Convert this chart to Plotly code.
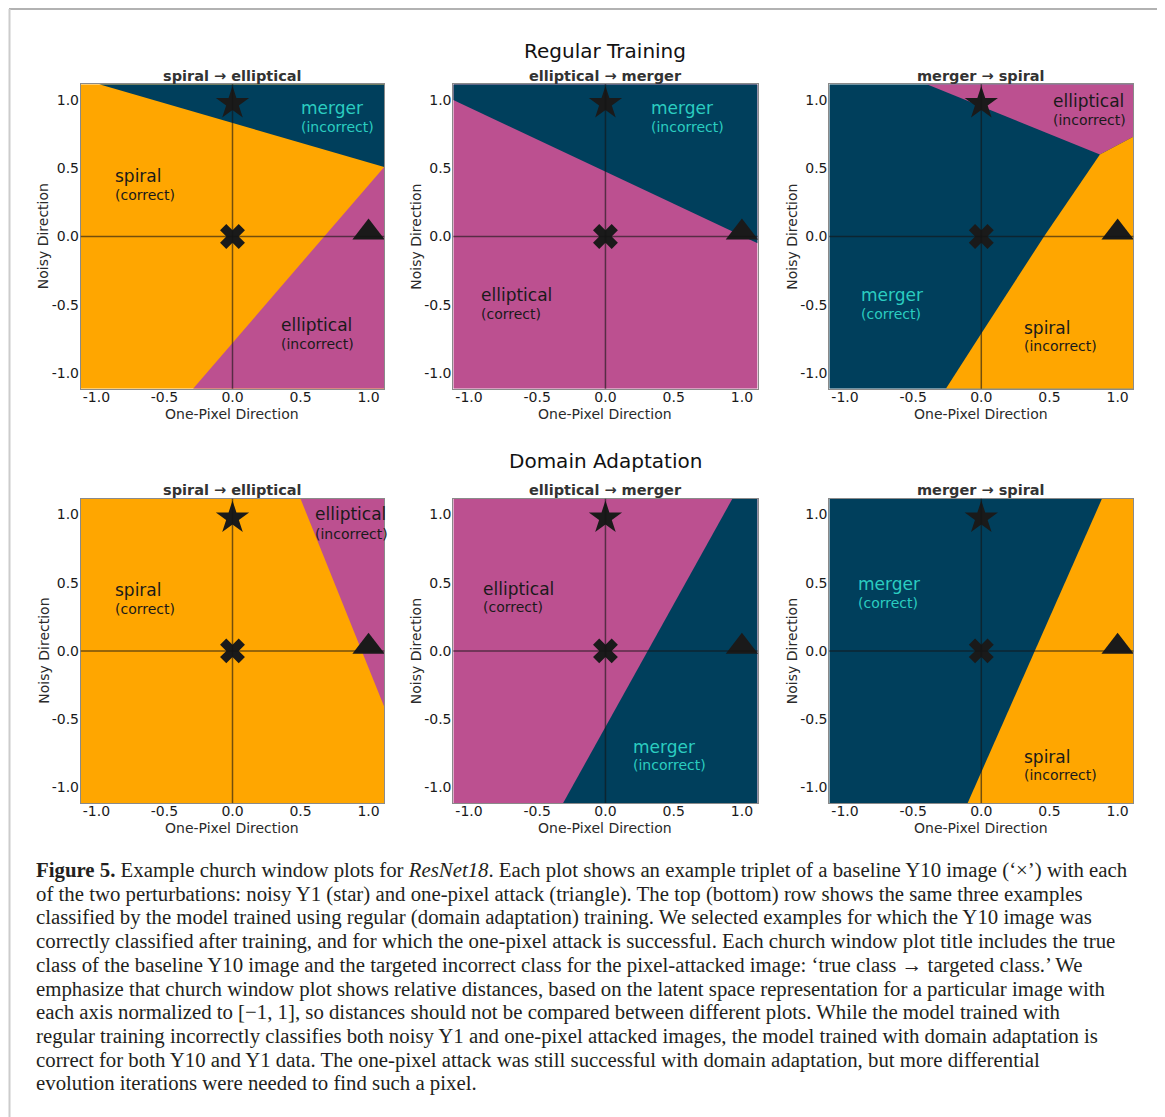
import plotly.graph_objects as go

# ---------------- data ----------------
E = 1.115  # half-width of each normalised window

tick_values = [-1.0, -0.5, 0.0, 0.5, 1.0]
tick_labels = ["-1.0", "-0.5", "0.0", "0.5", "1.0"]

row_titles = ["Regular Training", "Domain Adaptation"]
panel_titles = ["spiral \u2192 elliptical", "elliptical \u2192 merger", "merger \u2192 spiral"]

# background (majority) class of each window, row-major
panel_background = ["spiral", "elliptical", "merger", "spiral", "elliptical", "merger"]

# class regions drawn on top of the background: (class, x-vertices, y-vertices)
rt_se_regions = [("merger", [-0.98, E, E], [E, E, 0.51]),
                 ("elliptical", [-0.29, E, E], [-E, -E, 0.51])]
rt_em_regions = [("merger", [-E, -E, E, E], [E, 1.0, -0.05, E])]
rt_ms_regions = [("elliptical", [-0.40, 0.87, E, E], [E, 0.60, 0.73, E]),
                 ("spiral", [-0.26, 0.0, 0.46, 0.87, E, E], [-E, -0.71, 0.0, 0.60, 0.73, -E])]
da_se_regions = [("elliptical", [0.50, E, E], [E, E, -0.41])]
da_em_regions = [("merger", [-0.31, 0.93, E, E], [-E, E, E, -E])]
da_ms_regions = [("spiral", [-0.10, 0.885, E, E], [-E, E, E, -E])]
panel_regions = [rt_se_regions, rt_em_regions, rt_ms_regions,
                 da_se_regions, da_em_regions, da_ms_regions]

# region labels: (class, verdict, x_left, y_name, y_verdict)
rt_se_labels = [("merger", "incorrect", 0.49, 0.94, 0.80),
                ("spiral", "correct", -0.88, 0.445, 0.305),
                ("elliptical", "incorrect", 0.34, -0.65, -0.79)]
rt_em_labels = [("merger", "incorrect", 0.32, 0.94, 0.80),
                ("elliptical", "correct", -0.925, -0.43, -0.57)]
rt_ms_labels = [("elliptical", "incorrect", 0.51, 0.99, 0.85),
                ("merger", "correct", -0.90, -0.43, -0.57),
                ("spiral", "incorrect", 0.30, -0.667, -0.80)]
da_se_labels = [("elliptical", "incorrect", 0.59, 1.0, 0.86),
                ("spiral", "correct", -0.88, 0.45, 0.31)]
da_em_labels = [("elliptical", "correct", -0.91, 0.455, 0.32),
                ("merger", "incorrect", 0.19, -0.705, -0.84)]
da_ms_labels = [("merger", "correct", -0.92, 0.487, 0.35),
                ("spiral", "incorrect", 0.30, -0.78, -0.91)]
panel_labels = [rt_se_labels, rt_em_labels, rt_ms_labels,
                da_se_labels, da_em_labels, da_ms_labels]

# triplet points
baseline_y10 = (0.0, 0.0)     # 'x'
noisy_y1 = (0.0, 0.975)       # star
one_pixel = (1.0, 0.03)       # triangle

caption_lines = [
    "<b>Figure 5.</b> Example church window plots for <i>ResNet18</i>. Each plot shows an example triplet of a baseline Y10 image (\u2018\u00d7\u2019) with each",
    "of the two perturbations: noisy Y1 (star) and one-pixel attack (triangle). The top (bottom) row shows the same three examples",
    "classified by the model trained using regular (domain adaptation) training. We selected examples for which the Y10 image was",
    "correctly classified after training, and for which the one-pixel attack is successful. Each church window plot title includes the true",
    "class of the baseline Y10 image and the targeted incorrect class for the pixel-attacked image: \u2018true class \u2192 targeted class.\u2019 We",
    "emphasize that church window plot shows relative distances, based on the latent space representation for a particular image with",
    "each axis normalized to [\u22121, 1], so distances should not be compared between different plots. While the model trained with",
    "regular training incorrectly classifies both noisy Y1 and one-pixel attacked images, the model trained with domain adaptation is",
    "correct for both Y10 and Y1 data. The one-pixel attack was still successful with domain adaptation, but more differential",
    "evolution iterations were needed to find such a pixel.",
]

# ---------------- styling ----------------
OFF = 8                      # page body margin of the html wrapper
W, H = 1165 - OFF, 1117 - OFF
FILL = {"spiral": "#ffa600", "elliptical": "#bc5090", "merger": "#003f5c"}
LABEL_COL = {"spiral": "#1a1a1a", "elliptical": "#1a1a1a", "merger": "#2bcdc0"}
FONT = "DejaVu Sans"
SERIF = "Liberation Serif"


def px_x(v):
    return (v - OFF) / W


def px_y(v):
    return 1 - (v - OFF) / H


col_px = [(80.8, 384.2), (453.3, 757.6), (829.3, 1133.3)]
row_px = [(84.3, 388.7), (498.8, 803.0)]
row_title_y = [51, 461]
panel_title_y = [76, 490]

fig = go.Figure()
annotations = []
shapes = []

for i in range(6):
    r, c = divmod(i, 3)
    n = "" if i == 0 else str(i + 1)
    xa, ya = "x" + n, "y" + n
    l, rr = col_px[c]
    t, b = row_px[r]
    axis_common = dict(range=[-E, E], tickvals=tick_values, ticktext=tick_labels,
                       showgrid=False, zeroline=False, ticks="", showline=True,
                       linecolor="#8a8a8a", linewidth=1, mirror=True,
                       tickfont=dict(family=FONT, size=14, color="#1a1a1a"),
                       fixedrange=True)
    fig.layout["xaxis" + n] = dict(domain=[px_x(l), px_x(rr)], anchor=ya,
                                   ticklabelstandoff=-5, **axis_common)
    fig.layout["yaxis" + n] = dict(domain=[px_y(b), px_y(t)], anchor=xa,
                                   ticklabelstandoff=-2, **axis_common)

    # background class
    fig.add_trace(go.Scatter(x=[-E, E, E, -E], y=[-E, -E, E, E], fill="toself",
                             fillcolor=FILL[panel_background[i]], mode="none",
                             hoverinfo="skip", showlegend=False, xaxis=xa, yaxis=ya))
    for cls, px, py in panel_regions[i]:
        fig.add_trace(go.Scatter(x=px, y=py, fill="toself", fillcolor=FILL[cls],
                                 mode="none", hoverinfo="skip", showlegend=False,
                                 xaxis=xa, yaxis=ya))
    # markers
    for (mx, my), sym, sz in [(noisy_y1, "star", 25), (baseline_y10, "x", 22),
                              (one_pixel, "triangle-up", 28)]:
        fig.add_trace(go.Scatter(x=[mx], y=[my], mode="markers", showlegend=False,
                                 marker=dict(symbol=sym, size=sz, color="#1a1a1a",
                                             line=dict(width=0)),
                                 xaxis=xa, yaxis=ya, cliponaxis=False))
    # cross-hair axes through the baseline image
    shapes.append(dict(type="line", xref=xa, yref=ya + " domain", x0=0, x1=0, y0=0, y1=1,
                       line=dict(color="rgba(20,20,20,0.6)", width=1.5), layer="above"))
    shapes.append(dict(type="line", xref=xa + " domain", yref=ya, x0=0, x1=1, y0=0, y1=0,
                       line=dict(color="rgba(20,20,20,0.6)", width=1.5), layer="above"))

    # region labels
    for cls, verdict, lx, ly1, ly2 in panel_labels[i]:
        annotations.append(dict(x=lx, y=ly1, xref=xa, yref=ya, text=cls, showarrow=False,
                                xanchor="left", yanchor="middle",
                                font=dict(family=FONT, size=17, color=LABEL_COL[cls])))
        annotations.append(dict(x=lx, y=ly2, xref=xa, yref=ya, text="(" + verdict + ")",
                                showarrow=False, xanchor="left", yanchor="middle",
                                font=dict(family=FONT, size=14, color=LABEL_COL[cls])))

    # panel title and axis titles
    annotations.append(dict(x=px_x((l + rr) / 2), y=px_y(panel_title_y[r]), xref="paper",
                            yref="paper", text="<b>" + panel_titles[c] + "</b>",
                            showarrow=False, xanchor="center", yanchor="middle",
                            font=dict(family=FONT, size=14.5, color="#333333")))
    annotations.append(dict(x=0.5, y=0, xref=xa + " domain", yref=ya + " domain",
                            text="One-Pixel Direction", showarrow=False,
                            xanchor="center", yanchor="middle", yshift=-25,
                            font=dict(family=FONT, size=14, color="#2a2a2a")))
    annotations.append(dict(x=0, y=0.5, xref=xa + " domain", yref=ya + " domain",
                            text="Noisy Direction", showarrow=False, textangle=-90,
                            xanchor="center", yanchor="middle", xshift=-37,
                            font=dict(family=FONT, size=14, color="#2a2a2a")))

for r in range(2):
    annotations.append(dict(x=px_x(605), y=px_y(row_title_y[r]), xref="paper", yref="paper",
                            text=row_titles[r], showarrow=False, xanchor="center",
                            yanchor="middle", font=dict(family=FONT, size=20, color="#111111")))

caption_y = [870, 893.5, 917, 941, 965, 988.5, 1012, 1036, 1060, 1083]
for k, line in enumerate(caption_lines):
    annotations.append(dict(x=px_x(34), y=px_y(caption_y[k]), xref="paper", yref="paper",
                            text=line, showarrow=False, xanchor="left", yanchor="middle",
                            font=dict(family=SERIF, size=20.8, color="#231f20")))

# page frame (top edge darker, sides light)
shapes.append(dict(type="line", xref="paper", yref="paper", x0=px_x(9), x1=px_x(1163),
                   y0=px_y(9), y1=px_y(9), line=dict(color="#999999", width=1.5)))
shapes.append(dict(type="line", xref="paper", yref="paper", x0=px_x(9.5), x1=px_x(9.5),
                   y0=0, y1=px_y(9), line=dict(color="#cccccc", width=2)))
shapes.append(dict(type="line", xref="paper", yref="paper", x0=px_x(1163), x1=px_x(1163),
                   y0=0, y1=px_y(9), line=dict(color="#cccccc", width=2)))

fig.update_layout(width=W, height=H, margin=dict(l=0, r=0, t=0, b=0),
                  paper_bgcolor="white", plot_bgcolor="white",
                  annotations=annotations, shapes=shapes, showlegend=False)

fig.write_html("out.html")
